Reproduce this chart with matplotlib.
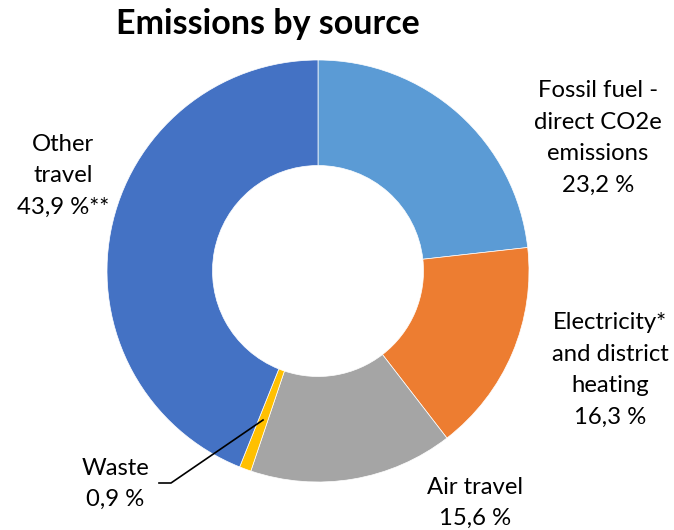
import matplotlib
matplotlib.use("Agg")
import matplotlib.pyplot as plt

# Emission shares by source (%)
sources = ["Fossil fuel -\ndirect CO2e\nemissions", "Electricity*\nand district\nheating",
           "Air travel", "Waste", "Other\ntravel"]
shares = [23.2, 16.3, 15.6, 0.9, 43.9]
suffixes = ["", "", "", "", "**"]
colors = ["#5B9BD5", "#ED7D31", "#A5A5A5", "#FFC000", "#4472C4"]

W, H = 674, 530
fig = plt.figure(figsize=(W / 100, H / 100), dpi=100)
plt.rcParams["font.family"] = ["Lato", "DejaVu Sans"]

cx, cy, r = 318, 271, 211
ax = fig.add_axes([(cx - r) / W, 1 - (cy + r) / H, 2 * r / W, 2 * r / H])
ax.pie(shares, colors=colors, startangle=90, counterclock=False, radius=1.0,
       wedgeprops=dict(width=0.5, linewidth=0.5, edgecolor="white"))
ax.set_xlim(-1, 1)
ax.set_ylim(-1, 1)
ax.set_aspect("equal")
ax.axis("off")


def fmt(v):
    return f"{v:.1f}".replace(".", ",") + " %"


def px(x, y):
    return x / W, 1 - y / H


fig.text(*px(268, 24), "Emissions by source", ha="center", va="center",
         fontsize=24.5, fontweight="bold")

label_pos = [(598, 138), (610, 370), (475, 503), (115, 484), (63, 176)]
for name, v, suf, (x, y) in zip(sources, shares, suffixes, label_pos):
    fig.text(*px(x, y), f"{name}\n{fmt(v)}{suf}", ha="center", va="center",
             fontsize=17.2, linespacing=1.62)

# leader line for the small waste slice
xs = [263 / W, 171 / W, 159 / W]
ys = [1 - 420 / H, 1 - 483 / H, 1 - 483 / H]
fig.add_artist(plt.Line2D(xs, ys, color="black", linewidth=1.2))

fig.savefig("out.png", dpi=100, facecolor="white")
